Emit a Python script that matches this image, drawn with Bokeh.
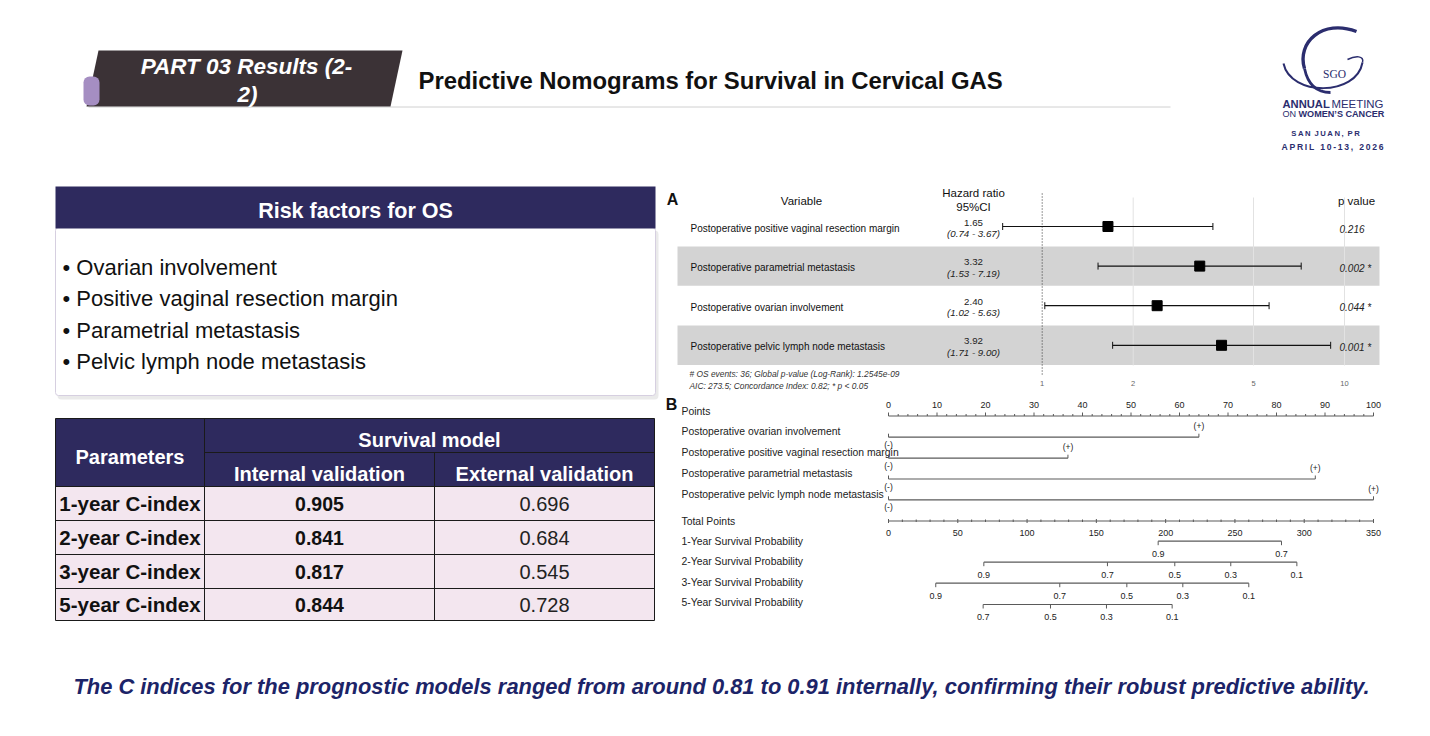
import math
from bokeh.plotting import figure
from bokeh.models import Range1d, LogScale, LinearScale, ColumnDataSource
from bokeh.core.properties import value
from bokeh.embed import file_html
from bokeh.resources import INLINE

# ---------------- data ----------------
risk_factors = ["Ovarian involvement", "Positive vaginal resection margin",
                "Parametrial metastasis", "Pelvic lymph node metastasis"]

table_params = ["1-year C-index", "2-year C-index", "3-year C-index", "5-year C-index"]
cindex_internal = ["0.905", "0.841", "0.817", "0.844"]
cindex_external = ["0.696", "0.684", "0.545", "0.728"]

forest_vars = ["Postoperative positive vaginal resection margin",
               "Postoperative parametrial metastasis",
               "Postoperative ovarian involvement",
               "Postoperative pelvic lymph node metastasis"]
hr = [1.65, 3.32, 2.40, 3.92]
hr_low = [0.74, 1.53, 1.02, 1.71]
hr_high = [3.67, 7.19, 5.63, 9.00]
p_values = ["0.216", "0.002 *", "0.044 *", "0.001 *"]
forest_ticks = [1, 2, 5, 10]

nomo_vars = ["Postoperative ovarian involvement",
             "Postoperative positive vaginal resection margin",
             "Postoperative parametrial metastasis",
             "Postoperative pelvic lymph node metastasis"]
nomo_pos_points = [64, 37, 88, 100]       # points for (+); (-) = 0
points_ticks = [0, 10, 20, 30, 40, 50, 60, 70, 80, 90, 100]
total_ticks = [0, 50, 100, 150, 200, 250, 300, 350]
surv_rows = ["1-Year Survival Probability", "2-Year Survival Probability",
             "3-Year Survival Probability", "5-Year Survival Probability"]
surv_1y_prob = ["0.9", "0.7"]
surv_1y_pts = [194.6, 283.6]
surv_2y_prob = ["0.9", "0.7", "0.5", "0.3", "0.1"]
surv_2y_pts = [68.8, 158.0, 206.6, 247.0, 294.7]
surv_3y_prob = ["0.9", "0.7", "0.5", "0.3", "0.1"]
surv_3y_pts = [34.1, 123.6, 172.0, 212.4, 260.0]
surv_5y_prob = ["0.7", "0.5", "0.3", "0.1"]
surv_5y_pts = [68.3, 116.9, 157.3, 204.7]

# ---------------- canvas ----------------
W, H, L, T = 1414, 720, 0, 0
p = figure(width=W, height=H, x_range=Range1d(L, L + W), y_range=Range1d(T + H, T),
           output_backend="svg", toolbar_location=None, min_border=0,
           x_axis_location=None, y_axis_location=None, outline_line_color=None,
           background_fill_color="white", border_fill_color="white")
p.grid.grid_line_color = None


def lin_range(v0, p0, v1, p1):
    k = (v1 - v0) / (p1 - p0)
    return Range1d(v0 + (L - p0) * k, v0 + (L + W - p0) * k)


def log_range(v0, p0, v1, p1):
    a0, a1 = math.log10(v0), math.log10(v1)
    k = (a1 - a0) / (p1 - p0)
    return Range1d(10 ** (a0 + (L - p0) * k), 10 ** (a0 + (L + W - p0) * k))


p.extra_x_ranges = {"hr": log_range(1, 1041.7, 10, 1344.0),
                    "pts": lin_range(0, 888, 100, 1373),
                    "tot": lin_range(0, 888, 350, 1373)}
p.extra_x_scales = {"hr": LogScale(), "pts": LinearScale(), "tot": LinearScale()}

SANS = "Liberation Sans"


def txt(x, y, texts, size, color="#000000", align="left", style="normal",
        font=SANS, rng="default", baseline="middle"):
    n = len(texts)
    xs = x if isinstance(x, list) else [x] * n
    ys = y if isinstance(y, list) else [y] * n
    src = ColumnDataSource(dict(x=xs, y=ys, t=texts))
    p.text(x="x", y="y", text="t", source=src, text_font=value(font),
           text_font_size=f"{size}px", text_color=color, text_align=align,
           text_baseline=baseline, text_font_style=style, x_range_name=rng)


# ---------------- header ----------------
p.segment(x0=[88], y0=[106.5], x1=[1170], y1=[106.5], line_color="#d0d0d0", line_width=1)
p.patch(x=[98, 402, 390, 86], y=[50, 50, 106, 106], fill_color="#3b3236", line_color=None)
p.quad(left=[83], right=[99], top=[76], bottom=[105], fill_color="#a58ec2",
       line_color=None, border_radius=6)
txt(246, 66, ["PART 03 Results (2-"], 22.5, "white", "center", "bold italic")
txt(247, 94, ["2)"], 22.5, "white", "center", "bold italic")
txt(418, 80, ["Predictive Nomograms for Survival in Cervical GAS"], 23.9, "#111111",
    "left", "bold")

# ---------------- logo ----------------
NAVY = "#2b2d6e"
p.bezier(x0=[1356], y0=[31], x1=[1304], y1=[68], cx0=[1322], cy0=[18], cx1=[1296], cy1=[42],
         line_color=NAVY, line_width=3.4)
p.bezier(x0=[1304], y0=[68], x1=[1330], y1=[92], cx0=[1308], cy0=[87], cx1=[1319], cy1=[92],
         line_color=NAVY, line_width=2.8)
p.bezier(x0=[1283], y0=[63], x1=[1362], y1=[62], cx0=[1290], cy0=[96], cx1=[1356], cy1=[96],
         line_color=NAVY, line_width=2.0)
p.bezier(x0=[1362], y0=[62], x1=[1347], y1=[59], cx0=[1364], cy0=[55], cx1=[1355], cy1=[55],
         line_color=NAVY, line_width=1.5)
txt(1334, 73, ["SGO"], 11.5, NAVY, "center", "normal", "Liberation Serif")
txt(1282, 103, ["ANNUAL"], 11.2, NAVY, "left", "bold")
txt(1331, 103, ["MEETING"], 11.4, NAVY, "left", "normal")
txt(1282, 113.5, ["ON"], 9.1, NAVY, "left", "normal")
txt(1298, 113.5, ["WOMEN\u2019S CANCER"], 9.1, NAVY, "left", "bold")
txt(1325, 133, ["S\u2009A\u2009N\u2002J\u2009U\u2009A\u2009N\u2009,\u2002P\u2009R"], 7.7, NAVY,
    "center", "bold")
txt(1332, 146, ["A\u2009P\u2009R\u2009I\u2009L\u2002\u20091\u20090\u2009-\u20091\u20093\u2009,\u2002\u20092\u20090\u20092\u20096"],
    8.6, NAVY, "center", "bold")

# ---------------- risk factor box ----------------
p.quad(left=[57], right=[658], top=[230], bottom=[399], fill_color="#dcdcdc",
       fill_alpha=0.6, line_color=None, border_radius=4)
p.quad(left=[55], right=[655], top=[227], bottom=[395], fill_color="white",
       line_color="#d6cfe0", line_width=1, border_radius=3)
p.quad(left=[55], right=[655], top=[186], bottom=[228], fill_color="#2e2a5e", line_color=None)
txt(355, 210, ["Risk factors for OS"], 21.5, "white", "center", "bold")
txt(62, [266.5, 298, 329.5, 361], ["\u2022 " + r for r in risk_factors], 22, "#111111")

# ---------------- table ----------------
HDR = "#2e2a5e"
PINK = "#f3e6ef"
c0, c1, c2, c3 = 55, 204, 434, 654
r_top, r_mid, r_hdr = 418, 452, 486
row_edges = [486, 520, 554, 588, 620]
p.quad(left=[c0], right=[c3], top=[r_top], bottom=[r_hdr], fill_color=HDR, line_color=None)
p.quad(left=[c0] * 4, right=[c3] * 4, top=row_edges[:-1], bottom=row_edges[1:],
       fill_color=PINK, line_color=None)
p.segment(x0=[c0, c0, c0, c0, c0, c0, c1], y0=[r_top] + row_edges + [r_mid],
          x1=[c3, c3, c3, c3, c3, c3, c3], y1=[r_top] + row_edges + [r_mid],
          line_color="#1a1a1a", line_width=1)
p.segment(x0=[c0, c1, c2, c3], y0=[r_top, r_top, r_mid, r_top],
          x1=[c0, c1, c2, c3], y1=[620, 620, 620, 620], line_color="#1a1a1a", line_width=1)
txt((c0 + c1) / 2, 456, ["Parameters"], 20, "white", "center", "bold")
txt((c1 + c3) / 2, 439, ["Survival model"], 20, "white", "center", "bold")
txt([(c1 + c2) / 2, (c2 + c3) / 2], 473, ["Internal validation", "External validation"], 20,
    "white", "center", "bold")
row_c = [(row_edges[i] + row_edges[i + 1]) / 2 for i in range(4)]
txt((c0 + c1) / 2, row_c, table_params, 20.5, "#111111", "center", "bold")
txt((c1 + c2) / 2, row_c, cindex_internal, 19.5, "#111111", "center", "bold")
txt((c2 + c3) / 2, row_c, cindex_external, 20, "#222222", "center", "normal")

# ---------------- footer ----------------
txt(721, 686, ["The C indices for the prognostic models ranged from around 0.81 to 0.91 "
               "internally, confirming their robust predictive ability."],
    21.9, "#1c2468", "center", "bold italic")

# ---------------- forest plot (A) ----------------
fy0, fdy = 226.0, 39.6
fy = [fy0 + i * fdy for i in range(len(hr))]
band_rows = [1, 3]
p.quad(left=[677] * 2, right=[1379] * 2, top=[fy[i] - 19.7 for i in band_rows],
       bottom=[fy[i] + 19.7 for i in band_rows], fill_color="#d3d3d3", line_color=None)
p.segment(x0=forest_ticks[1:], x1=forest_ticks[1:], y0=[197] * 3, y1=[365] * 3,
          x_range_name="hr", line_color="#e2e2e2", line_width=1)
p.segment(x0=[1], x1=[1], y0=[193], y1=[376], x_range_name="hr", line_color="#333333",
          line_width=1, line_dash="1 2")
p.segment(x0=hr_low, x1=hr_high, y0=fy, y1=fy, x_range_name="hr", line_color="#111111",
          line_width=1.2)
p.segment(x0=hr_low + hr_high, x1=hr_low + hr_high, y0=[y - 3.5 for y in fy] * 2,
          y1=[y + 3.5 for y in fy] * 2, x_range_name="hr", line_color="#111111", line_width=1)
p.scatter(x=hr, y=fy, marker="square", size=10, fill_color="black", line_color="black",
          x_range_name="hr")
txt(forest_ticks, 382.5, [str(t) for t in forest_ticks], 7.5, "#666666", "center", rng="hr")

txt(672, 199, ["A"], 16, "#111111", "center", "bold")
txt(801, 200, ["Variable"], 11.5, "#111111", "center")
txt(973, 192, ["Hazard ratio"], 11.5, "#111111", "center")
txt(973, 206, ["95%CI"], 11.5, "#111111", "center")
txt(1356, 200.5, ["p value"], 11.5, "#111111", "center")
txt(690, [y + 1.5 for y in fy], forest_vars, 10, "#111111")
txt(973, [y - 4 for y in fy], [f"{v:.2f}" for v in hr], 9.7, "#222222", "center")
txt(973, [y + 7 for y in fy], [f"({a:.2f} - {b:.2f})" for a, b in zip(hr_low, hr_high)], 9.7,
    "#222222", "center", "italic")
txt(1339, [y + 2 for y in fy], p_values, 10, "#222222", "left", "italic")
txt(689, 373.5, ["# OS events: 36; Global p-value (Log-Rank): 1.2545e-09"], 8.4, "#333333",
    "left", "italic")
txt(689, 385.5, ["AIC: 273.5; Concordance Index: 0.82; * p < 0.05"], 8.4, "#333333", "left",
    "italic")

# ---------------- nomogram (B) ----------------
LC = "#5a5a5a"
TC = "#222222"
txt(671, 404, ["B"], 16, "#111111", "center", "bold")
txt(681, 410.5, ["Points"], 10.4, TC)
txt(681, [430.7, 452.3, 473.3, 494.3], nomo_vars, 10.4, TC)
txt(681, 521, ["Total Points"], 10.4, TC)
txt(681, [540.7, 561.3, 582.3, 602.3], surv_rows, 10.4, TC)

# Points axis
ay = 415.5
p.segment(x0=[points_ticks[0]], x1=[points_ticks[-1]], y0=[ay], y1=[ay], x_range_name="pts",
          line_color=LC, line_width=1.2)
p.segment(x0=points_ticks, x1=points_ticks, y0=[ay] * len(points_ticks),
          y1=[ay - 3.5] * len(points_ticks), x_range_name="pts", line_color=LC, line_width=1)
pt_minor = [points_ticks[0] + 2 * i for i in range(51) if (2 * i) % 10]
p.segment(x0=pt_minor, x1=pt_minor, y0=[ay] * len(pt_minor), y1=[ay - 2] * len(pt_minor),
          x_range_name="pts", line_color=LC, line_width=1)
txt(points_ticks, 404.5, [str(t) for t in points_ticks], 9, TC, "center", rng="pts")

# variable lines
vy = [436.7, 457.7, 478.5, 499.3]
p.segment(x0=[0] * 4, x1=nomo_pos_points, y0=vy, y1=vy, x_range_name="pts", line_color=LC,
          line_width=1.2)
p.segment(x0=[0] * 4 + nomo_pos_points, x1=[0] * 4 + nomo_pos_points,
          y0=vy * 2, y1=[y - 3.5 for y in vy] * 2, x_range_name="pts", line_color=LC,
          line_width=1)
txt(nomo_pos_points, [y - 11 for y in vy], ["(+)"] * 4, 8.5, TC, "center", rng="pts")
txt([0] * 4, [y + 7.5 for y in vy], ["(-)"] * 4, 8.5, TC, "center", rng="pts")

# Total points axis
ty = 520.5
p.segment(x0=[total_ticks[0]], x1=[total_ticks[-1]], y0=[ty], y1=[ty], x_range_name="tot",
          line_color=LC, line_width=1.2)
p.segment(x0=total_ticks, x1=total_ticks, y0=[ty - 2] * len(total_ticks),
          y1=[ty + 2] * len(total_ticks), x_range_name="tot", line_color=LC, line_width=1)
tot_minor = [10 * i for i in range(36) if (10 * i) % 50]
p.segment(x0=tot_minor, x1=tot_minor, y0=[ty - 1.5] * len(tot_minor),
          y1=[ty + 1] * len(tot_minor), x_range_name="tot", line_color=LC, line_width=1)
txt(total_ticks, 532.5, [str(t) for t in total_ticks], 9, TC, "center", rng="tot")

# survival probability axes
surv_pts = [surv_1y_pts, surv_2y_pts, surv_3y_pts, surv_5y_pts]
surv_lab = [surv_1y_prob, surv_2y_prob, surv_3y_prob, surv_5y_prob]
sy = [540.7, 561.7, 582.7, 604.0]
for pts_, labs, yy in zip(surv_pts, surv_lab, sy):
    p.segment(x0=[min(pts_)], x1=[max(pts_)], y0=[yy], y1=[yy], x_range_name="tot",
              line_color=LC, line_width=1.2)
    p.segment(x0=pts_, x1=pts_, y0=[yy] * len(pts_), y1=[yy + 4] * len(pts_),
              x_range_name="tot", line_color=LC, line_width=1)
    txt(pts_, yy + 12.5, labs, 9, TC, "center", rng="tot")

open("out.html", "w").write(file_html(p, INLINE))
